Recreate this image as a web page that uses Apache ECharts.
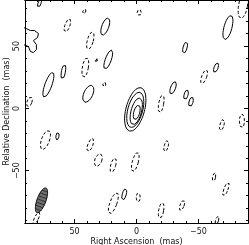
<!DOCTYPE html>
<html><head><meta charset="utf-8">
<script src="https://cdn.jsdelivr.net/npm/echarts@6/dist/echarts.min.js"></script>
<style>html,body{margin:0;padding:0;background:#fff}#c{width:249px;height:245px}</style>
</head><body><div id="c"></div>
<script>
// Contour ellipses: [RA centre (mas), Dec centre (mas), semi-minor, semi-major, tilt deg (top toward -RA)]
const solidContours = [
  [78.3, 84.3, 1.2, 3.6, 20],
  [25.2, 65.7, 2.8, 7.3, 20],
  [22.8, 39.1, 2.4, 8.1, 20],
  [32.4, 38.3, 0.8, 1.6, 10],
  [59.0, 29.4, 1.6, 6.0, 10],
  [71.1, 19.0, 2.8, 10.5, 20],
  [38.9, 11.7, 3.6, 7.3, 25],
  [-73.8, 64.9, 3.2, 10.0, 15],
  [-39.2, 48.8, 1.6, 4.8, 15],
  [-64.2, 32.7, 1.6, 4.0, 20],
  [-29.5, 16.5, 2.0, 5.2, 20],
  [-40.0, 10.9, 1.6, 4.0, 15],
  [-44.0, 5.2, 1.6, 4.0, 15],
  [9.9, -69.0, 1.6, 4.8, 15],
  [63.8, -22.2, 1.2, 3.2, 10]
];
const coreContours = [
  [1.0, -0.8, 7.5, 18.0, 15],
  [1.0, -1.2, 6.0, 14.5, 15],
  [0.2, -2.4, 4.2, 11.0, 15],
  [-0.2, -3.2, 2.4, 6.0, 15]
];
const dashedContours = [
  [42.1, 77.8, 1.2, 2.0, 20],
  [55.8, 66.5, 2.0, 5.6, 20],
  [37.3, 54.4, 2.4, 7.3, 15],
  [41.3, 32.7, 2.4, 8.0, 10],
  [26.0, 19.0, 1.2, 2.0, 10],
  [86.4, 5.2, 2.0, 4.0, 20],
  [-2.2, 77.0, 1.6, 2.4, 0],
  [-86.0, 82.6, 3.6, 10.5, 10],
  [-54.6, 25.4, 2.0, 6.0, 20],
  [-19.9, 3.6, 2.0, 7.3, 10],
  [-69.0, -13.3, 1.6, 4.8, 15],
  [-85.1, -10.1, 2.0, 5.6, 0],
  [73.5, -25.4, 3.2, 8.0, 20],
  [37.3, -29.4, 2.0, 5.6, 20],
  [30.8, -41.5, 2.8, 5.2, 20],
  [18.8, -45.6, 2.0, 6.0, 15],
  [18.7, -76.2, 2.8, 8.9, 20],
  [80.8, -88.3, 1.6, 5.6, 25],
  [-24.0, -30.2, 1.6, 4.8, 15],
  [1.0, -43.1, 2.4, 8.0, 15],
  [-1.4, -71.4, 1.6, 3.6, 0],
  [-19.9, -81.9, 2.0, 6.4, 10],
  [-36.8, -77.8, 1.6, 4.4, 20],
  [-62.6, -55.2, 1.2, 3.6, 10],
  [-72.2, -64.9, 1.6, 6.0, 20],
  [-65.0, -89.9, 1.2, 3.6, 15]
];
// Irregular contour at the left edge: [RA, Dec]
const blobPoints = [
  [91, 64.9], [85.6, 62.5], [82.4, 62.5], [79.1, 60.1], [79.9, 56.9], [83.2, 54.4],
  [80.8, 51.2], [80.8, 47.2], [83.2, 44.8], [85.6, 45.6], [87.2, 49.6], [91, 51.2]
];
// Restoring beam
const beam = [76.7, -73.8, 3.6, 10.5, 20];
const xMajorTicks = [-50, 0, 50];
const yMajorTicks = [-50, 0, 50];
const xMinorTicks = [-80, -70, -60, -50, -40, -30, -20, -10, 0, 10, 20, 30, 40, 50, 60, 70, 80];
const yMinorTicks = [-90, -80, -70, -60, -50, -40, -30, -20, -10, 0, 10, 20, 30, 40, 50, 60, 70, 80];

function ellipsePts(e) {
  const [cx, cy, a, b, tilt] = e;
  const phi = tilt * Math.PI / 180;
  const pts = [];
  const n = 60;
  for (let i = 0; i <= n; i++) {
    const t = i / n * 2 * Math.PI;
    const u = a * Math.cos(t), v = b * Math.sin(t);
    const r = u * Math.cos(phi) + v * Math.sin(phi);
    const up = -u * Math.sin(phi) + v * Math.cos(phi);
    pts.push([cx - r, cy + up]);
  }
  return pts;
}
function chord(e, s) {
  const [cx, cy, a, b, tilt] = e;
  const phi = tilt * Math.PI / 180;
  const v = s * b, uu = a * Math.sqrt(1 - s * s);
  const out = [];
  for (const u of [-uu, uu]) {
    const r = u * Math.cos(phi) + v * Math.sin(phi);
    const up = -u * Math.sin(phi) + v * Math.cos(phi);
    out.push([cx - r, cy + up]);
  }
  return out;
}

const font = 'DejaVu Sans';
const col = '#111';
const series = [];
function addLine(pts, dashed) {
  series.push({
    type: 'line', data: pts, xAxisIndex: 0, yAxisIndex: 0,
    symbol: 'none', showSymbol: false, silent: true, animation: false, clip: true,
    lineStyle: { color: '#000', width: 1, type: dashed ? [3, 2] : 'solid' }
  });
}
solidContours.forEach(e => addLine(ellipsePts(e), false));
coreContours.forEach(e => addLine(ellipsePts(e), false));
dashedContours.forEach(e => addLine(ellipsePts(e), true));
addLine(blobPoints, false);
series.push({
  type: 'custom', xAxisIndex: 0, yAxisIndex: 0, silent: true, animation: false,
  data: [[beam[0], beam[1]]],
  renderItem: function (params, api) {
    const poly = ellipsePts(beam).map(p => api.coord(p));
    const children = [{ type: 'polygon', shape: { points: poly }, style: { fill: '#6e6e6e', stroke: '#000', lineWidth: 1 } }];
    [-0.75, -0.5, -0.25, 0, 0.25, 0.5, 0.75].forEach(s => {
      const c = chord(beam, s).map(p => api.coord(p));
      children.push({ type: 'line', shape: { x1: c[0][0], y1: c[0][1], x2: c[1][0], y2: c[1][1] }, style: { stroke: '#222', lineWidth: 0.8 } });
    });
    return { type: 'group', children: children };
  }
});

function xAx(gi, pos, vals, len, labels, name) {
  return {
    type: 'value', gridIndex: gi, position: pos, min: -90, max: 90, inverse: true,
    axisLine: { show: true, onZero: false, lineStyle: { color: '#000', width: 1 } },
    splitLine: { show: false },
    axisTick: { show: true, inside: true, length: len, customValues: vals, lineStyle: { color: '#000' } },
    axisLabel: labels ? { show: true, customValues: vals, fontFamily: font, fontSize: 8, color: col, margin: 5, formatter: v => (v < 0 ? '\u2212' + (-v) : '' + v) } : { show: false },
    name: name || '', nameLocation: 'middle', nameGap: 15, nameMoveOverlap: false,
    nameTextStyle: { fontFamily: font, fontSize: 8, color: col }
  };
}
function yAx(gi, pos, vals, len, labels, name) {
  return {
    type: 'value', gridIndex: gi, position: pos, min: -92, max: 87,
    axisLine: { show: true, onZero: false, lineStyle: { color: '#000', width: 1 } },
    splitLine: { show: false },
    axisTick: { show: true, inside: true, length: len, customValues: vals, lineStyle: { color: '#000' } },
    axisLabel: labels ? { show: true, customValues: vals, rotate: 90, fontFamily: font, fontSize: 8, color: col, margin: 4, formatter: v => (v < 0 ? '\u2212' + (-v) : '' + v) } : { show: false },
    name: name || '', nameLocation: 'middle', nameGap: 14, nameRotate: 90, nameMoveOverlap: false,
    nameTextStyle: { fontFamily: font, fontSize: 8, color: col }
  };
}
const g = { left: 25, right: 1, top: 0, bottom: 22, containLabel: false, outerBoundsMode: 'none' };
const option = {
  animation: false,
  grid: [Object.assign({}, g), Object.assign({}, g)],
  xAxis: [
    xAx(0, 'bottom', xMajorTicks, 4, true, 'Right Ascension  (mas)'),
    xAx(0, 'top', xMajorTicks, 4, false),
    xAx(1, 'bottom', xMinorTicks, 2, false),
    xAx(1, 'top', xMinorTicks, 2, false)
  ],
  yAxis: [
    yAx(0, 'left', yMajorTicks, 4, true, 'Relative Declination  (mas)'),
    yAx(0, 'right', yMajorTicks, 4, false),
    yAx(1, 'left', yMinorTicks, 2, false),
    yAx(1, 'right', yMinorTicks, 2, false)
  ],
  series: series
};
const chart = echarts.init(document.getElementById('c'), null, { renderer: 'canvas' });
chart.setOption(option);
</script></body></html>
